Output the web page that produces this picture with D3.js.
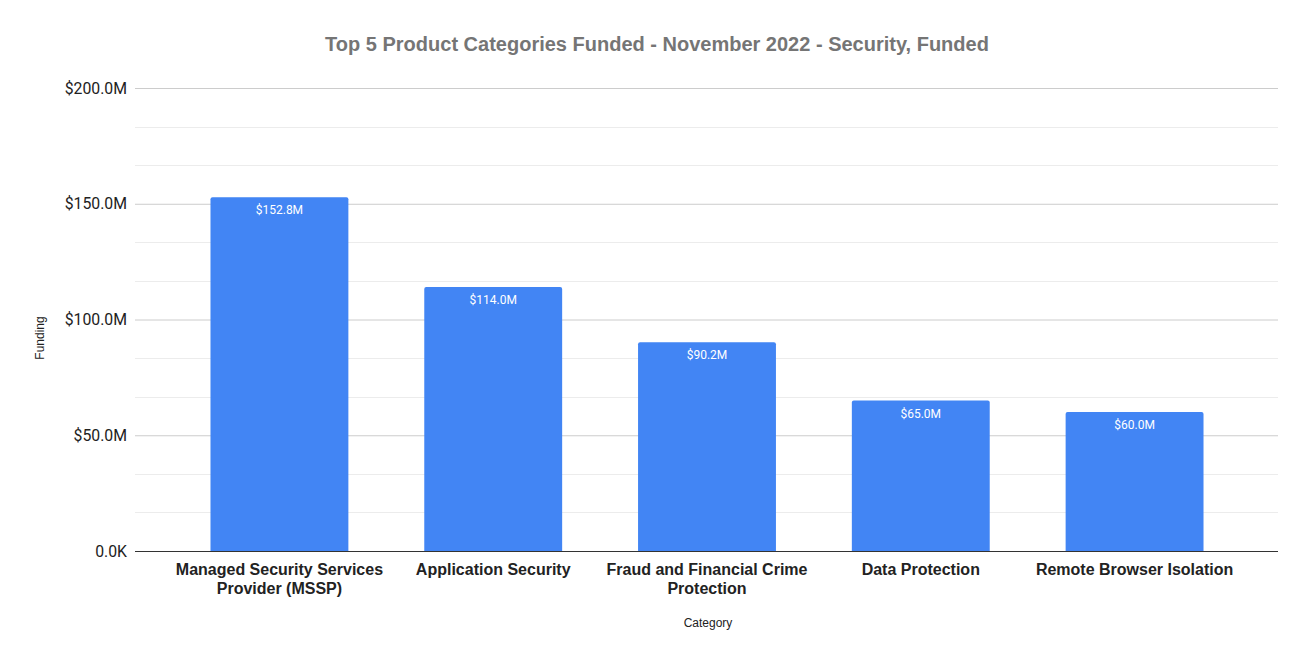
<!DOCTYPE html>
<html>
<head>
<meta charset="utf-8">
<script src="https://cdn.jsdelivr.net/npm/d3@7"></script>
<style>
  body { margin: 0; background: #fff; }
  svg { display: block; }
  .tick text { font-family: Roboto, Arial, sans-serif; }
</style>
</head>
<body>
<svg id="chart" width="1312" height="663"></svg>
<script>
'use strict';

// data
let categories = [
  "Managed Security Services Provider (MSSP)",
  "Application Security",
  "Fraud and Financial Crime Protection",
  "Data Protection",
  "Remote Browser Isolation"
];
let funding = [152.8, 114.0, 90.2, 65.0, 60.0];   // $M
let yTicks = [0, 50, 100, 150, 200];

let svg = d3.select("#chart"),
    plot = {left: 135, right: 1278, top: 88, bottom: 551},
    data = categories.map(function(c, i) { return {cat: c, value: funding[i]}; });

let x = d3.scaleBand()
    .domain(categories)
    .range([172, 1242])
    .paddingInner(0.355)
    .paddingOuter(0.18);

let y = d3.scaleLinear()
    .domain([0, 200])
    .range([plot.bottom, plot.top]);

function fmt(v) { return v === 0 ? "0.0K" : "$" + v.toFixed(1) + "M"; }

// minor gridlines
let minor = d3.range(0, 200, 50 / 3).filter(function(v) { return v % 50 > 0.01; });
svg.append("g")
  .selectAll("line")
  .data(minor)
  .join("line")
    .attr("x1", plot.left).attr("x2", plot.right)
    .attr("y1", function(d) { return Math.round(y(d)) + 0.5; })
    .attr("y2", function(d) { return Math.round(y(d)) + 0.5; })
    .attr("stroke", "#ececec");

// major gridlines + labels
let yAxis = svg.append("g")
    .attr("transform", "translate(" + plot.left + ",0)")
    .call(d3.axisLeft(y).tickValues(yTicks).tickFormat(fmt)
      .tickSize(-(plot.right - plot.left)).tickPadding(8));
yAxis.select(".domain").remove();
yAxis.selectAll(".tick line").attr("stroke", "#cccccc");
yAxis.selectAll(".tick text")
    .attr("font-size", 15.8)
    .attr("fill", "#222");

// bars
svg.append("g")
  .selectAll("path")
  .data(data)
  .join("path")
    .attr("fill", "#4285f4")
    .attr("d", function(d) {
      let x0 = x(d.cat), w = x.bandwidth(), y0 = y(d.value), y1 = y(0), r = 2;
      return "M" + x0 + "," + y1 + "V" + (y0 + r) + "Q" + x0 + "," + y0 + " " + (x0 + r) + "," + y0 +
             "H" + (x0 + w - r) + "Q" + (x0 + w) + "," + y0 + " " + (x0 + w) + "," + (y0 + r) + "V" + y1 + "Z";
    });

// value labels
svg.append("g")
  .selectAll("text")
  .data(data)
  .join("text")
    .attr("x", function(d) { return x(d.cat) + x.bandwidth() / 2; })
    .attr("y", function(d) { return y(d.value) + 17; })
    .attr("text-anchor", "middle")
    .attr("font-family", "Roboto, Arial, sans-serif")
    .attr("font-size", 12)
    .attr("fill", "#fff")
    .text(function(d) { return fmt(d.value); });

// baseline
svg.append("line")
    .attr("x1", plot.left).attr("x2", plot.right)
    .attr("y1", plot.bottom + 0.5).attr("y2", plot.bottom + 0.5)
    .attr("stroke", "#333");

// category labels, wrapped
let wrapLines = {
  "Managed Security Services Provider (MSSP)": ["Managed Security Services", "Provider (MSSP)"],
  "Fraud and Financial Crime Protection": ["Fraud and Financial Crime", "Protection"]
};
svg.append("g")
  .selectAll("text")
  .data(categories)
  .join("text")
    .attr("x", function(d) { return x(d) + x.bandwidth() / 2; })
    .attr("y", 575)
    .attr("text-anchor", "middle")
    .attr("font-family", "'Liberation Sans', Arial, sans-serif")
    .attr("font-weight", "bold")
    .attr("font-size", 16)
    .attr("fill", "#222")
    .each(function(d) {
      let lines = wrapLines[d] || [d];
      d3.select(this).selectAll("tspan")
        .data(lines)
        .join("tspan")
          .attr("x", x(d) + x.bandwidth() / 2)
          .attr("dy", function(l, i) { return i ? 19 : 0; })
          .text(function(l) { return l; });
    });

// axis titles
svg.append("text")
    .attr("x", 708).attr("y", 627)
    .attr("text-anchor", "middle")
    .attr("font-family", "'Liberation Sans', Arial, sans-serif")
    .attr("font-size", 12)
    .attr("fill", "#222")
    .text("Category");

svg.append("text")
    .attr("transform", "translate(44,338) rotate(-90)")
    .attr("text-anchor", "middle")
    .attr("font-family", "'Liberation Sans', Arial, sans-serif")
    .attr("font-size", 12)
    .attr("fill", "#222")
    .text("Funding");

// title
svg.append("text")
    .attr("x", 657).attr("y", 51)
    .attr("text-anchor", "middle")
    .attr("font-family", "'Liberation Sans', Arial, sans-serif")
    .attr("font-weight", "bold")
    .attr("font-size", 20)
    .attr("fill", "#757575")
    .text("Top 5 Product Categories Funded - November 2022 - Security, Funded");
</script>
</body>
</html>
